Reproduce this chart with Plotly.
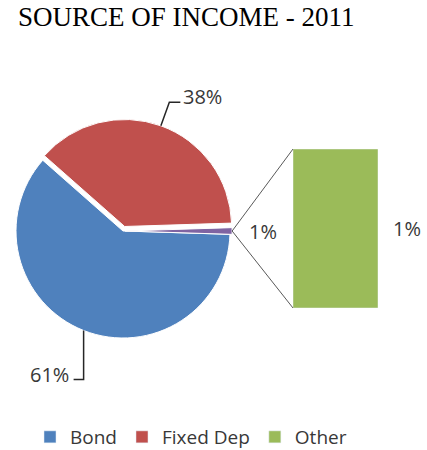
import math
import plotly.graph_objects as go

# ---- data ----
pie_labels = ["Bond", "Fixed Dep", "Other"]
pie_values = [61, 38, 1]
pie_colors = ["#4F81BD", "#C0504D", "#8064A2"]
pie_text = ["61%", "38%", "1%"]
bar_labels = ["Other"]
bar_values = [1]
bar_text = ["1%"]
legend_colors = {"Bond": "#4F81BD", "Fixed Dep": "#C0504D", "Other": "#9BBB59"}
title_text = "SOURCE OF INCOME - 2011"

# ---- layout geometry (pixels) ----
W, H = 427, 450
cx, cy, r = 123, 231, 107
pulls = [0, 0.045, 0.02]
maxpull = max(pulls)
half = r * (1 + maxpull)
pie_dom_x = [(cx - half) / W, (cx + half) / W]
pie_dom_y = [1 - (cy + half) / H, 1 - (cy - half) / H]
total = sum(pie_values)
rotation = 90 + 360 * pie_values[-1] / total / 2  # "Other" slice centred at 3 o'clock

bar_x0, bar_x1, bar_y0, bar_y1 = 293, 378, 149, 308
bar_dom_x = [bar_x0 / W, bar_x1 / W]
bar_dom_y = [1 - bar_y1 / H, 1 - bar_y0 / H]

def px(x):
    return x / W

def py(y):
    return 1 - y / H

# slice mid angles (clockwise from 12 o'clock)
mids = []
acc = rotation
for v in pie_values:
    a = 360 * v / total
    mids.append(acc + a / 2)
    acc += a

def edge_point(i, extra=0.0):
    ang = math.radians(mids[i])
    dx, dy = math.sin(ang), -math.cos(ang)
    ox = cx + pulls[i] * r * dx
    oy = cy + pulls[i] * r * dy
    return ox + (r + extra) * dx, oy + (r + extra) * dy, dx, dy

fig = go.Figure()

fig.add_trace(go.Pie(
    labels=pie_labels, values=pie_values, sort=False, direction="clockwise",
    rotation=rotation, pull=pulls, textinfo="none", hoverinfo="label+percent",
    marker=dict(colors=pie_colors, line=dict(color="white", width=1)),
    domain=dict(x=pie_dom_x, y=pie_dom_y), showlegend=False,
))

for name in ["Bond", "Fixed Dep"]:
    fig.add_trace(go.Bar(x=[None], y=[None], name=name,
                         marker=dict(color=legend_colors[name]), showlegend=True))

fig.add_trace(go.Bar(x=bar_labels, y=bar_values, name="Other", width=1,
                     marker=dict(color=legend_colors["Other"]), showlegend=True))

shapes = []
annotations = []
lbl_font = dict(family="Open Sans", size=20, color="#383838")
line_col = "#262626"

# 38% leader (Fixed Dep)
ex, ey, dx, dy = edge_point(1)
kx, ky = ex + 25 * dx, ey + 25 * dy
shapes.append(dict(type="path", xref="paper", yref="paper",
                   path=f"M{px(ex)},{py(ey)} L{px(kx)},{py(ky)} L{px(kx + 11)},{py(ky)}",
                   line=dict(color=line_col, width=1.5)))
annotations.append(dict(xref="paper", yref="paper", x=px(kx + 12), y=py(ky - 6),
                        xanchor="left", yanchor="middle", text=pie_text[1],
                        showarrow=False, font=lbl_font))

# 61% leader (Bond)
ex, ey, dx, dy = edge_point(0)
shapes.append(dict(type="path", xref="paper", yref="paper",
                   path=f"M{px(ex)},{py(ey)} L{px(ex)},{py(ey + 49)} L{px(ex - 10)},{py(ey + 49)}",
                   line=dict(color=line_col, width=1.5)))
annotations.append(dict(xref="paper", yref="paper", x=px(ex - 13), y=py(ey + 44),
                        xanchor="right", yanchor="middle", text=pie_text[0],
                        showarrow=False, font=lbl_font))

# connector lines from the "Other" slice to the bar
ox_, oy_, _, _ = edge_point(2)
for by in (bar_y0, bar_y1):
    shapes.append(dict(type="line", xref="paper", yref="paper",
                       x0=px(ox_), y0=py(oy_), x1=px(bar_x0), y1=py(by),
                       line=dict(color="#595959", width=1)))
annotations.append(dict(xref="paper", yref="paper", x=px(ox_ + 15), y=py(oy_),
                        xanchor="left", yanchor="middle", text=pie_text[2],
                        showarrow=False, font=lbl_font))

# bar label
annotations.append(dict(xref="x", yref="y", x=0.5, y=bar_values[0] / 2, xshift=13,
                        xanchor="left", yanchor="middle", text=bar_text[0],
                        showarrow=False, font=lbl_font))

# title
annotations.append(dict(xref="paper", yref="paper", x=px(16), y=py(17),
                        xanchor="left", yanchor="middle", text=title_text,
                        showarrow=False,
                        font=dict(family="Liberation Serif", size=27, color="black")))

fig.update_layout(
    width=W, height=H, margin=dict(l=0, r=0, t=0, b=0, autoexpand=False),
    paper_bgcolor="white", plot_bgcolor="white",
    barmode="overlay",
    xaxis=dict(domain=bar_dom_x, range=[-0.5, 0.5], visible=False, type="category",
               fixedrange=True),
    yaxis=dict(domain=bar_dom_y, range=[0, bar_values[0]], visible=False, fixedrange=True),
    shapes=shapes, annotations=annotations,
    legend=dict(orientation="h", x=px(30), xanchor="left", y=py(418), yanchor="top",
                font=dict(family="Open Sans", size=19, color="#383838"),
                bgcolor="rgba(0,0,0,0)"),
    showlegend=True,
)

fig.write_html("out.html")
